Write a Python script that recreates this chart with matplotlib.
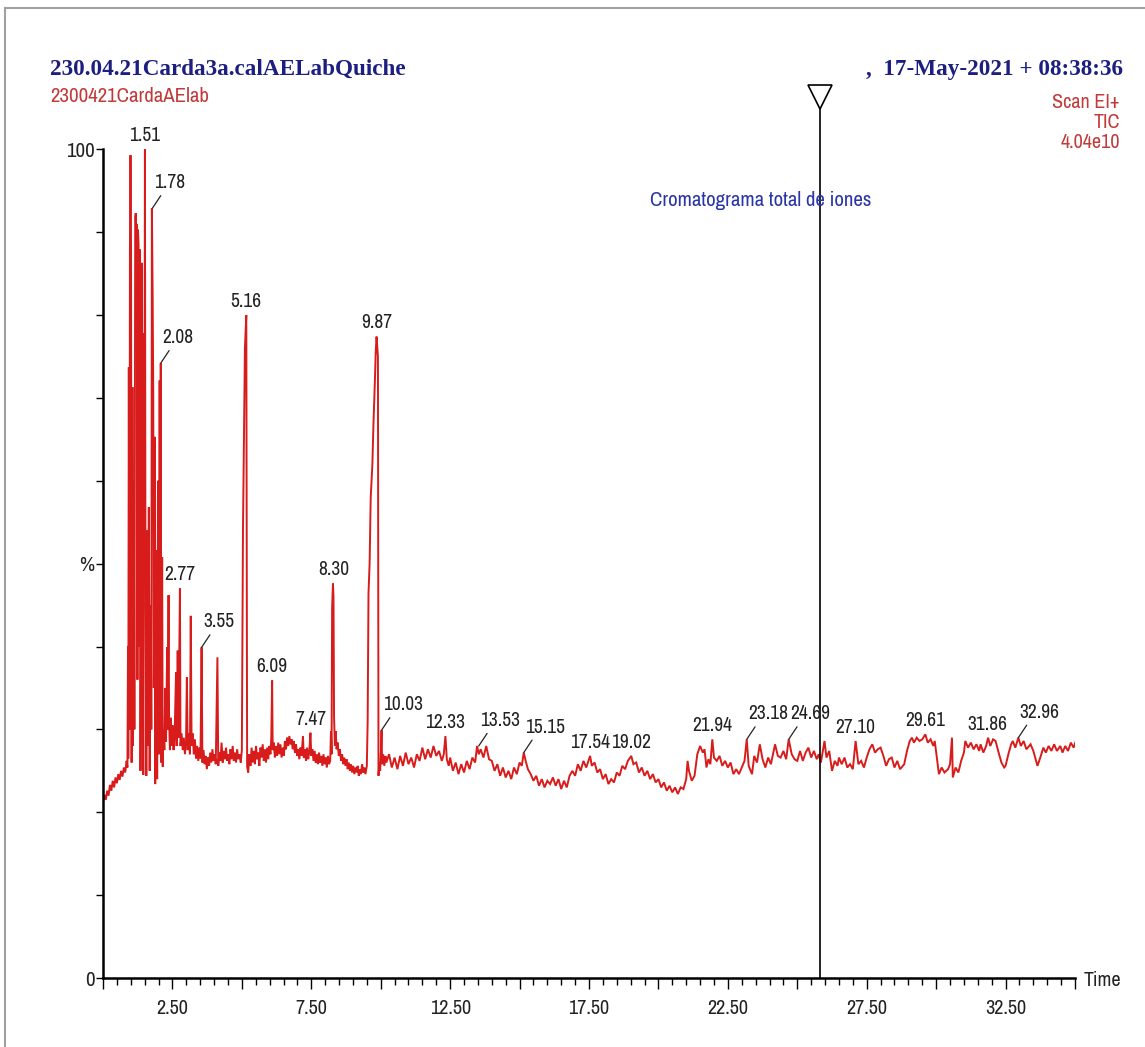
import matplotlib
matplotlib.use("Agg")
import matplotlib.pyplot as plt
import numpy as np
from matplotlib.lines import Line2D
from matplotlib import font_manager

# --- trace (retention time in min, relative intensity in %) ---
t_early = [0.00, 0.05, 0.10, 0.15, 0.20, 0.25, 0.30, 0.35, 0.40, 0.45, 0.50, 0.55, 0.60, 0.65,
           0.70, 0.75, 0.80, 0.85, 0.88, 0.90, 0.91, 0.93, 0.95, 0.97, 0.99, 1.01, 1.03, 1.06,
           1.08, 1.11, 1.13, 1.16, 1.18, 1.20, 1.22, 1.24, 1.26, 1.28, 1.30, 1.33, 1.35, 1.39,
           1.41, 1.43, 1.45, 1.47, 1.49, 1.51, 1.53, 1.56, 1.60, 1.62, 1.65, 1.68, 1.72, 1.74,
           1.76, 1.79, 1.81, 1.83, 1.86, 1.88, 1.92, 1.95, 1.98, 2.01, 2.04, 2.06, 2.08, 2.10,
           2.13, 2.15, 2.18, 2.21, 2.24, 2.27, 2.31, 2.33, 2.36, 2.38, 2.41, 2.44, 2.47, 2.50]
y_early = [21.3, 22.1, 21.5, 22.6, 22.0, 23.3, 22.6, 23.8, 23.0, 24.2, 23.5, 24.6, 23.9, 25.0,
           24.3, 25.4, 24.8, 26.2, 25.4, 40.0, 26.5, 73.7, 30.0, 87.9, 99.3, 88.0, 26.0, 71.3,
           28.0, 60.0, 30.0, 91.8, 92.3, 89.0, 91.0, 36.0, 90.3, 88.5, 40.0, 87.9, 25.0, 86.3,
           30.0, 77.8, 24.5, 76.6, 55.0, 100.0, 45.0, 24.4, 54.0, 28.0, 56.8, 25.0, 45.0, 30.0,
           92.9, 81.4, 70.0, 35.0, 65.3, 23.4, 51.6, 24.0, 60.0, 27.0, 72.1, 40.0, 74.2, 26.0,
           50.8, 25.5, 30.0, 27.5, 35.0, 28.5, 39.9, 30.0, 46.2, 31.0, 27.5, 31.4, 28.0, 30.5]

t_mid = [2.54, 2.58, 2.63, 2.65, 2.69, 2.72, 2.77, 2.79, 2.83, 2.87, 2.91, 2.95, 2.99, 3.02,
         3.05, 3.09, 3.13, 3.16, 3.19, 3.23, 3.27, 3.31, 3.35, 3.39, 3.43, 3.47, 3.51, 3.55,
         3.58, 3.62, 3.66, 3.70, 3.74, 3.78, 3.82, 3.86, 3.90, 3.94, 3.98, 4.02, 4.06, 4.12,
         4.15, 4.19, 4.23, 4.27, 4.31, 4.35, 4.39, 4.43, 4.47, 4.51, 4.55, 4.59, 4.63, 4.67,
         4.71, 4.75, 4.79, 4.83, 4.87, 4.92, 4.96, 5.00, 5.04, 5.08, 5.11, 5.14, 5.16, 5.19,
         5.23, 5.27, 5.31, 5.35, 5.39, 5.43, 5.47, 5.51, 5.55, 5.59, 5.63, 5.67, 5.71, 5.75,
         5.79, 5.83, 5.87, 5.91, 5.95, 5.99, 6.03, 6.06, 6.09, 6.11, 6.15, 6.19, 6.23, 6.27,
         6.31, 6.35, 6.39, 6.43, 6.47, 6.51, 6.55, 6.59, 6.63, 6.67, 6.71, 6.75, 6.79, 6.83,
         6.87, 6.91, 6.95, 6.99, 7.03, 7.07, 7.11, 7.15, 7.20, 7.23, 7.27, 7.31, 7.35, 7.39,
         7.43, 7.47, 7.50, 7.54, 7.58, 7.62, 7.66, 7.70, 7.74, 7.78, 7.82, 7.86, 7.90, 7.94,
         7.98, 8.02, 8.06, 8.10, 8.14, 8.18, 8.21, 8.23, 8.25, 8.28, 8.30, 8.32, 8.35, 8.38,
         8.41, 8.45, 8.49, 8.53, 8.57, 8.61, 8.65, 8.69, 8.73, 8.77, 8.81, 8.85, 8.89, 8.93,
         8.97, 9.01, 9.05, 9.09, 9.13, 9.17, 9.21, 9.25, 9.29, 9.33, 9.37, 9.41, 9.45, 9.50,
         9.53, 9.56, 9.60, 9.64, 9.70, 9.74, 9.79, 9.82, 9.85, 9.88, 9.90, 9.92, 9.95, 9.98,
         10.01, 10.03, 10.05, 10.09, 10.13, 10.17]
y_mid = [27.5, 29.5, 36.9, 28.0, 39.5, 29.0, 47.0, 28.0, 29.5, 27.5, 29.0, 27.0, 28.5, 36.3,
         27.5, 29.5, 27.0, 43.7, 28.0, 29.5, 27.0, 28.8, 26.5, 28.0, 26.2, 27.8, 26.5, 39.9,
         26.0, 27.5, 25.8, 26.8, 25.2, 26.6, 25.6, 27.2, 26.0, 27.6, 26.2, 27.0, 25.8, 38.7,
         25.6, 27.2, 26.2, 28.4, 26.0, 27.4, 26.4, 27.8, 26.2, 27.0, 25.8, 27.6, 26.4, 28.0,
         26.2, 27.2, 26.0, 27.6, 26.4, 27.0, 26.0, 27.5, 54.0, 65.9, 76.0, 78.5, 80.0, 25.5,
         24.8, 27.0, 25.6, 27.8, 26.0, 27.4, 25.8, 28.0, 26.4, 27.2, 25.6, 27.8, 26.6, 28.2,
         26.2, 27.6, 26.0, 27.8, 26.4, 28.0, 27.0, 29.0, 35.9, 27.5, 28.4, 26.6, 28.0, 26.8,
         28.4, 27.0, 28.2, 26.6, 27.8, 26.8, 28.6, 27.6, 29.0, 28.0, 29.2, 28.2, 28.8, 27.6,
         28.6, 27.2, 28.2, 26.8, 27.6, 26.4, 27.8, 26.8, 29.2, 26.6, 27.6, 26.2, 27.8, 26.4,
         27.4, 29.6, 26.8, 27.6, 26.2, 27.4, 26.0, 27.0, 25.8, 27.2, 26.0, 26.8, 25.6, 27.0,
         25.8, 26.6, 25.4, 26.8, 25.8, 26.2, 29.8, 27.0, 44.7, 47.6, 46.0, 31.4, 28.0, 29.8,
         27.6, 28.4, 26.8, 27.6, 26.2, 27.0, 25.8, 26.6, 25.6, 26.4, 25.2, 26.0, 25.0, 25.8,
         24.8, 25.6, 24.6, 25.4, 24.8, 25.6, 24.4, 25.2, 24.6, 25.8, 24.8, 25.4, 24.6, 25.6,
         31.0, 46.4, 50.0, 58.0, 62.0, 67.0, 72.0, 75.5, 77.4, 76.0, 75.0, 24.4, 26.0, 25.0,
         27.5, 29.9, 25.8, 27.0, 25.6, 26.8]

t_late1 = [10.2, 10.3, 10.4, 10.5, 10.6, 10.7, 10.8, 10.9, 11.0, 11.1, 11.2, 11.3, 11.4, 11.5,
           11.6, 11.7, 11.8, 11.9, 12.0, 12.1, 12.2, 12.27, 12.33, 12.38, 12.45, 12.5, 12.6,
           12.7, 12.8, 12.9, 13.0, 13.1, 13.2, 13.3, 13.4, 13.47, 13.53, 13.6, 13.7, 13.8, 13.9,
           14.0, 14.1, 14.2, 14.3, 14.4, 14.5, 14.6, 14.7, 14.8, 14.9, 15.0, 15.08, 15.15, 15.22,
           15.3, 15.4, 15.5, 15.6, 15.7, 15.8, 15.9, 16.0, 16.1, 16.2, 16.3, 16.4, 16.5, 16.6,
           16.7, 16.8, 16.9, 17.0, 17.1, 17.2, 17.3, 17.4, 17.54, 17.6, 17.7, 17.8, 17.9, 18.0,
           18.1, 18.2, 18.3, 18.4, 18.5, 18.6, 18.7, 18.8, 18.9, 19.02, 19.1, 19.2, 19.3, 19.4,
           19.5, 19.6, 19.7, 19.8, 19.9, 20.0, 20.1, 20.2, 20.3, 20.4, 20.5, 20.6, 20.7, 20.8,
           20.9, 21.0]
y_late1 = [26.0, 27.0, 25.4, 26.6, 25.2, 26.8, 25.6, 27.2, 25.8, 26.6, 25.4, 27.0, 26.2, 27.8,
           26.4, 27.6, 26.6, 28.0, 26.8, 27.4, 26.2, 27.0, 29.2, 26.4, 25.6, 26.6, 25.0,
           26.0, 24.6, 25.8, 24.8, 26.2, 25.2, 26.6, 26.0, 28.0, 27.0, 27.6, 26.6, 28.0, 26.4,
           26.2, 25.0, 25.8, 24.4, 25.4, 24.2, 25.0, 24.0, 25.4, 24.6, 26.0, 25.6, 27.2, 26.2,
           25.2, 24.6, 23.8, 24.4, 23.2, 24.0, 23.0, 23.8, 23.4, 24.2, 23.2, 24.0, 22.8, 23.8,
           23.0, 24.4, 25.0, 24.4, 25.8, 25.0, 26.2, 25.4, 26.8, 25.6, 26.0, 24.8, 25.2, 24.0,
           24.6, 23.4, 24.0, 23.6, 24.8, 24.4, 25.6, 25.2, 26.2, 26.8, 25.8, 26.0, 24.8, 25.4,
           24.4, 25.0, 24.0, 24.6, 23.6, 24.0, 23.0, 23.6, 22.6, 23.2, 22.4, 23.0, 22.2, 23.0,
           22.8, 24.0]

t_late2 = [21.05, 21.1, 21.2, 21.3, 21.4, 21.5, 21.6, 21.66, 21.73, 21.8, 21.87, 21.94, 22.0,
           22.1, 22.2, 22.3, 22.4, 22.5, 22.6, 22.7, 22.8, 22.9, 23.0, 23.1, 23.18, 23.25, 23.37,
           23.45, 23.55, 23.65, 23.75, 23.85, 23.95, 24.05, 24.15, 24.2, 24.3, 24.4, 24.5, 24.6,
           24.69, 24.8, 24.9, 25.0, 25.1, 25.2, 25.3, 25.4, 25.5, 25.6, 25.7, 25.77, 25.85,
           25.98, 26.05, 26.15, 26.25, 26.35, 26.45, 26.5, 26.6, 26.7, 26.8, 26.9, 27.0, 27.1,
           27.2, 27.3, 27.4, 27.5, 27.6, 27.7, 27.8, 27.9, 28.0, 28.1, 28.2, 28.3, 28.4, 28.5,
           28.6, 28.7, 28.85, 28.95, 29.05, 29.13, 29.2, 29.3, 29.4, 29.5, 29.61, 29.7, 29.8,
           29.9, 29.95, 30.05, 30.1, 30.2, 30.3, 30.43, 30.5, 30.57, 30.6, 30.7, 30.8, 30.9,
           31.0, 31.05, 31.15, 31.25, 31.35, 31.45, 31.55, 31.6, 31.7, 31.8, 31.87, 31.95,
           32.05, 32.14, 32.25, 32.35, 32.45, 32.5, 32.6, 32.7, 32.76, 32.85, 32.96, 33.05,
           33.15, 33.25, 33.4, 33.5, 33.6, 33.65, 33.75, 33.86, 33.95, 34.05, 34.15, 34.25,
           34.35, 34.47, 34.55, 34.65, 34.75, 34.85, 34.95, 35.05]
y_late2 = [26.2, 25.0, 23.8, 24.4, 27.0, 28.0, 27.2, 27.6, 25.4, 26.4, 25.8, 28.8, 26.6,
           26.2, 26.8, 25.6, 26.2, 25.4, 26.0, 24.6, 25.2, 24.6, 25.4, 26.2, 28.8, 25.6, 24.6,
           26.8, 26.0, 28.2, 26.4, 25.4, 26.6, 25.8, 27.4, 28.2, 26.8, 26.6, 27.4, 26.4,
           28.8, 27.0, 26.4, 26.2, 27.4, 26.2, 27.2, 27.8, 26.6, 27.4, 26.4, 27.0, 26.0,
           28.6, 26.6, 27.4, 25.0, 26.2, 25.6, 26.6, 25.8, 26.6, 25.4, 25.8, 25.2, 28.6,
           25.8, 26.2, 25.4, 26.6, 27.6, 28.2, 27.2, 27.6, 27.8, 26.8, 25.6, 26.4, 26.6, 25.4,
           26.2, 25.2, 25.8, 27.4, 28.6, 29.0, 28.4, 29.0, 28.6, 28.8, 29.4, 28.4, 28.8,
           28.0, 28.6, 26.0, 24.6, 25.4, 24.8, 25.2, 25.8, 29.0, 24.2, 25.4, 24.8, 26.2,
           27.2, 28.6, 27.8, 28.4, 27.6, 28.2, 27.4, 28.2, 27.2, 28.0, 29.0, 28.0,
           28.8, 28.6, 27.2, 26.0, 25.4, 25.6, 27.0, 28.2, 28.6, 27.8, 29.0, 28.0,
           28.6, 27.6, 28.2, 27.4, 26.2, 25.6, 26.6, 27.8, 27.2, 28.0, 27.4, 28.2,
           27.4, 28.0, 27.2, 28.0, 27.4, 28.4, 27.8, 28.8]

# --- peak labels ---
peak_labels = ["1.51", "1.78", "2.08", "2.77", "3.55", "5.16", "6.09", "7.47", "8.30", "9.87",
               "10.03", "12.33", "13.53", "15.15", "17.54", "19.02", "21.94", "23.18", "24.69",
               "27.10", "29.61", "31.86", "32.96"]
peak_apex = [100.0, 92.9, 74.2, 47.0, 39.9, 80.0, 35.9, 29.6, 47.6, 77.4,
             29.9, 29.2, 28.0, 27.2, 26.8, 26.8, 28.8, 28.8, 28.8,
             28.6, 29.4, 29.0, 29.0]
peak_leader = ["1.78", "2.08", "3.55", "10.03", "13.53", "15.15", "23.18", "24.69", "32.96"]

marker_time = 25.8

# pick a narrow sans if one is installed, else plain Liberation Sans a bit smaller
narrow_name = None
for f in font_manager.fontManager.ttflist:
    if "Narrow" in f.name or "Condensed" in f.name:
        narrow_name = f.name
        break
if narrow_name:
    sans = [narrow_name, "Liberation Sans", "DejaVu Sans"]
    k = 1.0
else:
    sans = ["Liberation Sans", "DejaVu Sans"]
    k = 0.84
serif = ["Liberation Serif", "DejaVu Serif"]

W, H = 1145, 1047
fig = plt.figure(figsize=(W / 100, H / 100), dpi=100)
fig.patch.set_facecolor("white")

def fx(x):
    return x / W

def fy(y):
    return 1 - y / H

ax = fig.add_axes([fx(103), fy(978), fx(1075) - fx(103), (978 - 149.3) / H])

t_all = np.concatenate([t_early, t_mid, t_late1, t_late2])
y_all = np.concatenate([y_early, y_mid, y_late1, y_late2])
ax.plot(t_all, y_all, color="#d81c1c", lw=1.4, solid_joinstyle="miter")

ax.set_xlim(0, 35)
ax.set_ylim(0, 100)
for s in ["top", "right"]:
    ax.spines[s].set_visible(False)
ax.spines["left"].set_linewidth(1.8)
ax.spines["bottom"].set_linewidth(1.8)

# y ticks
ax.set_yticks(np.arange(0, 101, 10))
ylabels = ["" for _ in range(11)]
ylabels[0], ylabels[5], ylabels[10] = "0", "%", "100"
ax.set_yticklabels(ylabels)
ax.tick_params(axis="y", length=5, width=1, pad=1, labelsize=15 * k)

# x ticks
xmaj = np.arange(0, 35.01, 2.5)
ax.set_xticks(xmaj)
ax.set_xticklabels(["%.2f" % v if (v - 2.5) % 5 == 0 else "" for v in xmaj])
ax.set_xticks(np.arange(0, 35.01, 0.5), minor=True)
ax.tick_params(axis="x", which="major", length=8, width=1, pad=7, labelsize=14.5 * k)
ax.tick_params(axis="x", which="minor", length=5, width=1)
for lab in ax.get_xticklabels() + ax.get_yticklabels():
    lab.set_family(sans)
    lab.set_color("#222222")

# peak labels
for txt, h in zip(peak_labels, peak_apex):
    t = float(txt)
    if txt in peak_leader:
        ax.annotate("", xy=(t, h), xytext=(6, 9), textcoords="offset points",
                    arrowprops=dict(arrowstyle="-", lw=0.9, color="#222222",
                                    shrinkA=0, shrinkB=0))
        ax.annotate(txt, xy=(t, h), xytext=(1, 11.5), textcoords="offset points",
                    ha="left", va="bottom", fontsize=14 * k, family=sans,
                    color="#222222", annotation_clip=False)
    else:
        ax.annotate(txt, xy=(t, h), xytext=(0, 3), textcoords="offset points",
                    ha="center", va="bottom", fontsize=14 * k, family=sans,
                    color="#222222", annotation_clip=False)

# marker line with open triangle
ax.plot([marker_time, marker_time], [0, 105.2], color="black", lw=1.2, clip_on=False)
ax.plot([marker_time], [106.3], marker="v", markersize=17, markerfacecolor="white",
        markeredgecolor="black", markeredgewidth=1.2, clip_on=False)

# header texts
fig.text(fx(50), fy(69), "230.04.21Carda3a.calAELabQuiche", fontsize=16.7,
         fontweight="bold", family=serif, color="#1c1f80", va="center", ha="left")
fig.text(fx(1123), fy(70), ",  17-May-2021 + 08:38:36", fontsize=16.7,
         fontweight="bold", family=serif, color="#1c1f80", va="center", ha="right")
fig.text(fx(50), fy(97), "2300421CardaAElab", fontsize=15 * k, family=sans,
         color="#c23a3a", va="center", ha="left")
for txt, yy in zip(["Scan EI+", "TIC", "4.04e10"], [103, 122, 142]):
    fig.text(fx(1120), fy(yy), txt, fontsize=14.5 * k, family=sans, color="#c23a3a",
             va="center", ha="right")
fig.text(fx(650), fy(200), "Cromatograma total de iones", fontsize=15 * k, family=sans,
         color="#2a35a8", va="center", ha="left")
fig.text(fx(1084), fy(980), "Time", fontsize=14.5 * k, family=sans, color="#222222",
         va="center", ha="left")

# screenshot frame
fig.add_artist(Line2D([fx(5), fx(5)], [0, fy(8)], color="#a0a0a0", lw=1.5))
fig.add_artist(Line2D([fx(5), 1], [fy(8), fy(8)], color="#a0a0a0", lw=1.5))

fig.savefig("out.png", dpi=100)
